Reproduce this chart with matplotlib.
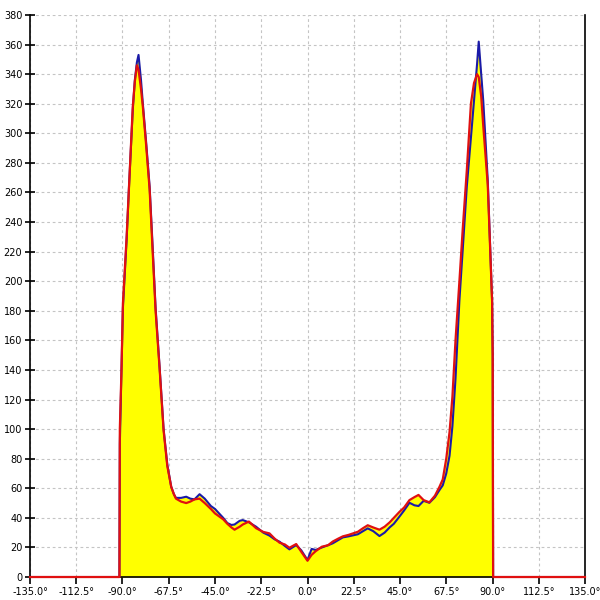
import numpy as np
import matplotlib
matplotlib.use("Agg")
import matplotlib.pyplot as plt

# angle (deg) shared by both curves
angle = [-135, -91.5, -91.3, -90.5, -89.8, -88, -86.9, -85, -84, -83, -82.2, -81,
         -80.1, -78.5, -76.8, -75.5, -73.9, -72, -70, -68.2, -66.3, -65, -64, -61.5,
         -59, -57, -55, -52.5, -50, -47, -45, -43, -41, -39, -37, -35.5, -33,
         -31.5, -28.5, -25, -21.5, -18.5, -16, -13.6, -11, -8.8, -5.5, -3, 0, 2,
         4, 7, 10, 12.3, 15, 17.2, 20, 24.5, 27, 29.3, 32, 35, 37.5, 40, 42,
         44.7, 47, 49.6, 52, 54, 56.5, 59.3, 62, 64.2, 65.8, 67.5, 69.1, 70.5,
         72, 73.9, 75.5, 77.5, 79.5, 81, 82.5, 83.3, 84.5, 85.5, 87.7, 89.8,
         90.1, 90.3, 135]

red_vals = [0, 0, 100, 140, 185, 230, 262, 318, 335, 346, 343, 330,
            318, 292, 262, 225, 180, 142, 99, 75, 61, 56, 53, 51,
            50, 51, 52.5, 53, 50, 46, 43, 41, 39, 36, 33.5, 32, 34,
            35.5, 37.5, 33, 30.5, 29.5, 26, 23.2, 22, 19.8, 22.3, 17, 11, 15,
            17.5, 20.5, 21.5, 24, 26, 27.5, 28.5, 30.6, 33, 35, 33.5, 32, 34, 37, 40,
            44, 47, 52, 54, 55.5, 52, 50.5, 55, 61, 66, 80, 98, 122,
            160, 200, 235, 275, 320, 334, 340, 338, 325, 305, 265, 187,
            150, 0, 0]

blue_vals = [0, 0, 90, 140, 182, 228, 262, 316, 336, 348, 353, 336,
             320, 294, 264, 228, 182, 143, 100, 76, 61, 56, 53.5, 53.5,
             54.3, 53, 52.5, 56, 53, 48, 46, 43, 40, 36.5, 35.2, 35.5, 38,
             38.5, 37, 34, 30, 28, 25.5, 23.9, 21, 18.7, 21.6, 18, 11.5, 19,
             18.3, 20, 21.5, 22.8, 25, 26.8, 27.5, 28.9, 31, 32.9, 31, 27.7, 30, 33.6, 36,
             40.8, 45, 50.2, 48.5, 48, 51.5, 50.2, 54, 58.8, 62, 70, 82, 102,
             134, 187, 221, 264, 297, 322, 347, 362, 340, 322, 268, 187,
             150, 0, 0]

x_ticks = np.arange(-135, 135.1, 22.5)
y_ticks = np.arange(0, 381, 20)

x = np.array(angle)
red = np.array(red_vals)
blue = np.array(blue_vals)

fig = plt.figure(figsize=(6, 6), dpi=100)
ax = fig.add_axes([0.05, 0.0383, 0.925, 0.9367])

ax.fill_between(x, 0, np.maximum(red, blue), color="#ffff00", lw=0, zorder=1)
ax.plot(x, blue, color="#1a1aa8", lw=1.5, zorder=3)
ax.plot(x, red, color="#e01010", lw=1.6, zorder=4, clip_on=False)

ax.set_xlim(-135, 135)
ax.set_ylim(0, 380)
ax.set_xticks(x_ticks)
ax.set_xticklabels([f"{v:.1f}°" for v in x_ticks])
ax.set_yticks(y_ticks)
ax.tick_params(axis="both", labelsize=7, colors="black", width=1.2)
ax.tick_params(axis="y", direction="inout", length=7, pad=2)
ax.tick_params(axis="x", direction="out", length=5, pad=2)

ax.grid(True, color="#c4c4c4", linestyle=(0, (2.5, 2.5)), linewidth=0.8)
ax.set_axisbelow(True)
ax.spines["top"].set_visible(False)
for s in ["left", "bottom", "right"]:
    ax.spines[s].set_linewidth(1.2)
    ax.spines[s].set_color("black")

fig.savefig("out.png", dpi=100)
